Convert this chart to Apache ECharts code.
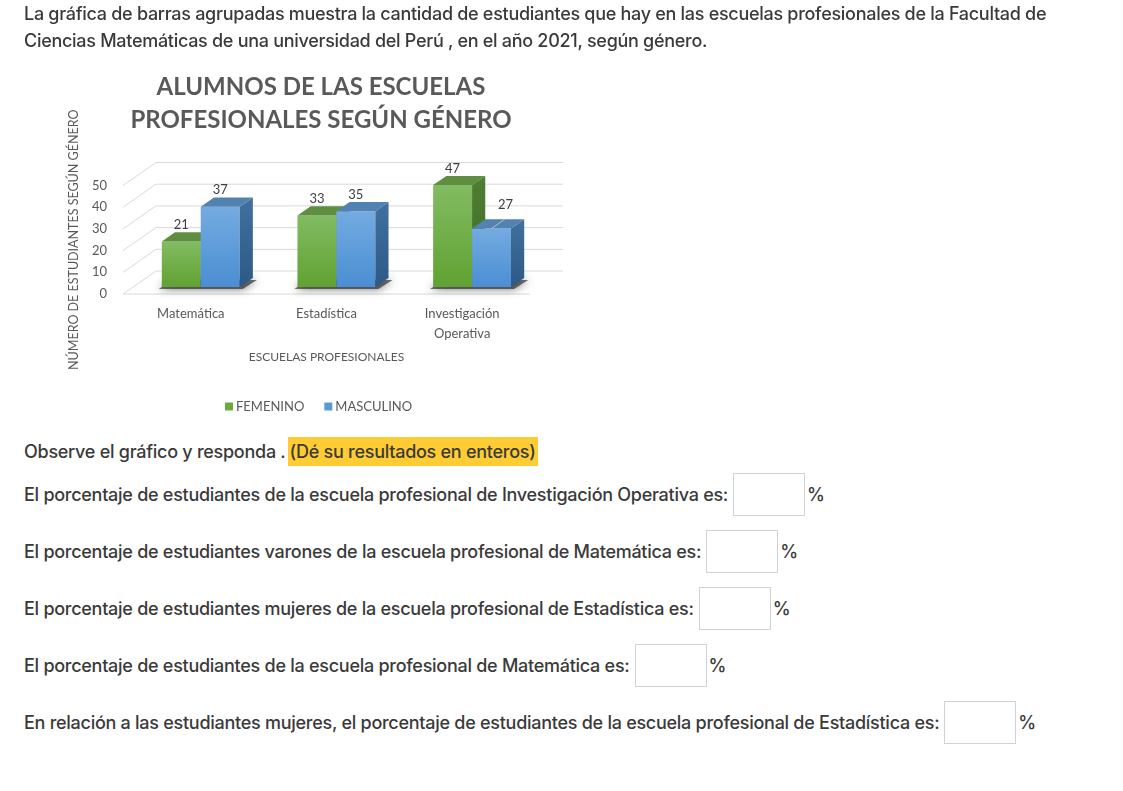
<!DOCTYPE html>
<html><head><meta charset="utf-8">
<script src="https://cdn.jsdelivr.net/npm/echarts@6/dist/echarts.min.js"></script>
<style>
html,body{margin:0;padding:0;background:#fff;width:1123px;height:791px;overflow:hidden;}
body{font-family:Inter,"Open Sans",sans-serif;color:#3a3a3a;position:relative;}
#chart{position:absolute;left:0;top:0;width:600px;height:430px;}
.t{position:absolute;left:24px;top:0;font-size:18px;font-weight:500;letter-spacing:-0.29px;white-space:nowrap;line-height:27px;}
.q{position:absolute;left:24px;font-size:18px;font-weight:500;letter-spacing:-0.27px;white-space:nowrap;display:flex;align-items:center;height:43px;}
.box{display:inline-block;width:70px;height:41px;border:1px solid #cfd3d9;margin-left:5px;background:#fff;}
.pct{margin-left:2px;}
.hl{background:#ffcc33;padding:4px 2px;margin-left:2px;}
</style></head>
<body>
<div id="chart"></div>
<div class="t">La gráfica de barras agrupadas muestra la cantidad de estudiantes que hay en las escuelas profesionales de la Facultad de<br>Ciencias Matemáticas de una universidad del Perú , en el año 2021, según género.</div>
<div class="q" style="top:430px">Observe el gráfico y responda .<span class="hl">(Dé su resultados en enteros)</span></div>
<div class="q" style="top:473px">El porcentaje de estudiantes de la escuela profesional de Investigación Operativa es:<span class="box"></span><span class="pct">%</span></div>
<div class="q" style="top:530px">El porcentaje de estudiantes varones de la escuela profesional de Matemática es:<span class="box"></span><span class="pct">%</span></div>
<div class="q" style="top:587px">El porcentaje de estudiantes mujeres de la escuela profesional de Estadística es:<span class="box"></span><span class="pct">%</span></div>
<div class="q" style="top:644px">El porcentaje de estudiantes de la escuela profesional de Matemática es:<span class="box"></span><span class="pct">%</span></div>
<div class="q" style="top:701px">En relación a las estudiantes mujeres, el porcentaje de estudiantes de la escuela profesional de Estadística es:<span class="box"></span><span class="pct">%</span></div>
<script>
const categories = ['Matemática', 'Estadística', 'Investigación\nOperativa'];
const femenino = [21, 33, 47];
const masculino = [37, 35, 27];
const yTicks = [0, 10, 20, 30, 40, 50];
const seriesNames = ['FEMENINO', 'MASCULINO'];

// 3D projection style
const DX = 33, DY = -23;      // full depth offset of the floor
const F0 = 0.3, F1 = 0.7;     // bar depth range
const BAR = 0.287;            // bar width / band
const FONT = 'Lato';
const palettes = [
  {front: ['#82bb62', '#60a232'], top: '#5f8e41', side: ['#4f7f33', '#3c6824'], legend: '#6aab3d'},
  {front: ['#74abe1', '#4a8ed3'], top: '#5282b2', side: ['#42719f', '#2c5986'], legend: '#5b9bd5'}
];
const labelNudge = {'1-2': [14, -7]};

function grad(c) {
  return {type: 'linear', x: 0, y: 0, x2: 0, y2: 1, colorStops: [{offset: 0, color: c[0]}, {offset: 1, color: c[1]}]};
}

function gridRender(params, api) {
  const t = api.value(1);
  const band = api.size([1, 0])[0];
  const p = api.coord([0, t]);
  const xl = p[0] - band / 2;
  const xr = api.coord([categories.length - 1, t])[0] + band / 2;
  const st = {stroke: '#d9d9d9', lineWidth: 1};
  const ch = [
    {type: 'line', shape: {x1: xl, y1: p[1], x2: xl + DX, y2: p[1] + DY}, style: st},
    {type: 'line', shape: {x1: xl + DX, y1: p[1] + DY, x2: xr + DX, y2: p[1] + DY}, style: st}
  ];
  if (t === 0) ch.push({type: 'line', shape: {x1: xl, y1: p[1], x2: xr, y2: p[1]}, style: st});
  return {type: 'group', children: ch};
}

function shadowRender(params, api) {
  const ci = api.value(0);
  const band = api.size([1, 0])[0];
  const w = band * BAR;
  const c = api.coord([ci, 0]);
  const x0 = c[0] + DX * F0 - w, x1 = c[0] + DX * F0 + w;
  const yb = c[1] + DY * F0;
  const bx = DX * (F1 - F0), by = DY * (F1 - F0);
  return {
    type: 'polygon',
    shape: {points: [[x0 - 3, yb + 2], [x1 + 3, yb + 2], [x1 + bx + 4, yb + by + 2], [x0 + bx - 3, yb + by + 2]]},
    style: {fill: 'rgba(60,60,60,0.75)', shadowBlur: 8, shadowColor: 'rgba(40,40,40,0.9)'}
  };
}

function barRender(k) {
  const pal = palettes[k];
  return function (params, api) {
    const ci = api.value(0), v = api.value(1);
    const band = api.size([1, 0])[0];
    const w = band * BAR;
    const c = api.coord([ci, 0]);
    const t = api.coord([ci, v]);
    const x0 = c[0] + DX * F0 + (k - 1) * w, x1 = x0 + w;
    const yb = c[1] + DY * F0, yt = t[1] + DY * F0;
    const bx = DX * (F1 - F0), by = DY * (F1 - F0);
    const ch = [
      {type: 'rect', shape: {x: x0, y: yt, width: w, height: yb - yt}, style: {fill: grad(pal.front)}},
      {type: 'polygon', shape: {points: [[x0, yt], [x1, yt], [x1 + bx, yt + by], [x0 + bx, yt + by]]}, style: {fill: pal.top}},
      {type: 'polygon', shape: {points: [[x1, yt], [x1 + bx, yt + by], [x1 + bx, yb + by], [x1, yb]]}, style: {fill: grad(pal.side)}}
    ];
    const nd = labelNudge[k + '-' + ci] || [0, 0];
    const lx = (x0 + x1) / 2 + nd[0], ly = yt + by - 1 + nd[1];
    if (nd[0] || nd[1]) {
      ch.push({type: 'line', shape: {x1: (x0 + x1) / 2, y1: yt, x2: (x0 + x1) / 2 + bx, y2: yt + by}, style: {stroke: '#bfbfbf', lineWidth: 1}});
    }
    ch.push({type: 'text', style: {text: String(v), x: lx, y: ly, align: 'center', verticalAlign: 'bottom', fill: '#404040', font: '13px ' + FONT}});
    return {type: 'group', children: ch};
  };
}

const chart = echarts.init(document.getElementById('chart'));
chart.setOption({
  animation: false,
  textStyle: {fontFamily: FONT},
  title: {
    text: 'ALUMNOS DE LAS ESCUELAS\nPROFESIONALES SEGÚN GÉNERO',
    left: 316, top: 66, textAlign: 'center',
    textStyle: {fontFamily: FONT, fontSize: 24, fontWeight: 'bold', color: '#595959', lineHeight: 33}
  },
  legend: {
    data: seriesNames, left: 220, top: 395, icon: 'rect', itemWidth: 8, itemHeight: 8, itemGap: 20,
    textStyle: {fontFamily: FONT, fontSize: 13, color: '#595959', padding: [0, 0, 0, -2]}
  },
  grid: {left: 123, width: 407, top: 185.5, height: 108.5},
  xAxis: {
    type: 'category', data: categories,
    axisLine: {show: false}, axisTick: {show: false}, splitLine: {show: false},
    axisLabel: {fontSize: 13, color: '#595959', margin: 10, lineHeight: 20, interval: 0},
    name: 'ESCUELAS PROFESIONALES', nameLocation: 'middle', nameGap: 57,
    nameTextStyle: {fontSize: 12, color: '#595959'}
  },
  yAxis: {
    type: 'value', min: 0, max: 50, interval: 10,
    axisLine: {show: false}, axisTick: {show: false}, splitLine: {show: false},
    axisLabel: {fontSize: 13, color: '#595959', margin: 16},
    name: 'NÚMERO DE ESTUDIANTES SEGÚN GÉNERO', nameLocation: 'middle', nameGap: 43,
    nameTextStyle: {fontSize: 12.5, color: '#595959'}
  },
  series: [
    {type: 'custom', clip: false, silent: true, renderItem: gridRender, data: yTicks.map(t => [0, t]), z: 1},
    {type: 'custom', clip: false, silent: true, renderItem: shadowRender, data: categories.map((c, i) => [i, 0]), z: 2},
    {type: 'custom', name: seriesNames[0], clip: false, renderItem: barRender(0), itemStyle: {color: palettes[0].legend},
      data: femenino.map((v, i) => [i, v]), z: 3},
    {type: 'custom', name: seriesNames[1], clip: false, renderItem: barRender(1), itemStyle: {color: palettes[1].legend},
      data: masculino.map((v, i) => [i, v]), z: 4}
  ]
});
</script>
</body></html>
